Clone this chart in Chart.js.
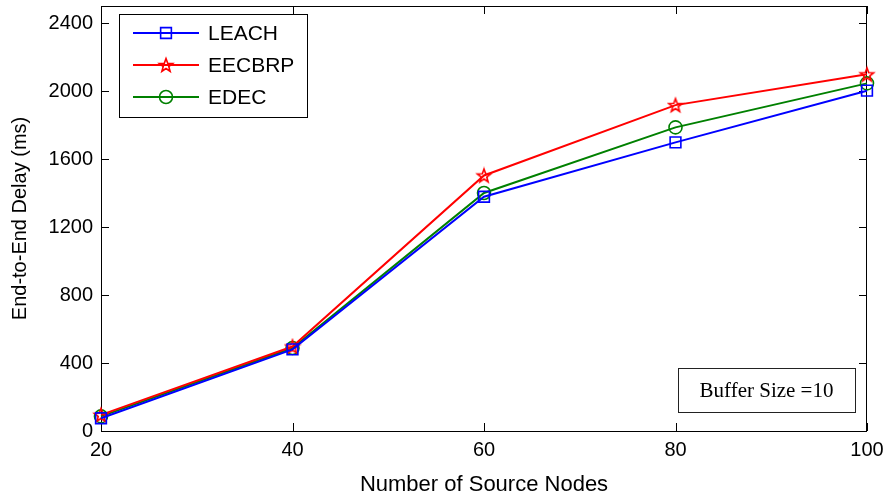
<!DOCTYPE html>
<html>
<head>
<meta charset="utf-8">
<script src="https://cdn.jsdelivr.net/npm/chart.js@4/dist/chart.umd.min.js"></script>
<style>
  html, body { margin: 0; padding: 0; background: #fff; }
  #wrap { width: 888px; height: 493px; }
</style>
</head>
<body>
<div id="wrap"><canvas id="c" width="888" height="493"></canvas></div>
<script>
// ---- data ----
const sourceNodes = [20, 40, 60, 80, 100];
const leach  = [75, 480, 1378, 1698, 2002];
const eecbrp = [95, 497, 1503, 1917, 2098];
const edec   = [86, 488, 1400, 1786, 2045];
const seriesNames = ['LEACH', 'EECBRP', 'EDEC'];
const yTicks = [0, 400, 800, 1200, 1600, 2000, 2400];
const xTicks = [20, 40, 60, 80, 100];
const annotationText = 'Buffer Size =10';

// pentagram marker
function makeStar(color) {
  const s = 18, cv = document.createElement('canvas');
  cv.width = s; cv.height = s;
  const g = cv.getContext('2d');
  const cx = s / 2, cy = s / 2 + 0.6, R = 7.0, r = 2.9;
  g.beginPath();
  for (let i = 0; i < 10; i++) {
    const a = -Math.PI / 2 + i * Math.PI / 5;
    const rr = i % 2 ? r : R;
    const px = cx + rr * Math.cos(a), py = cy + rr * Math.sin(a);
    i ? g.lineTo(px, py) : g.moveTo(px, py);
  }
  g.closePath();
  g.strokeStyle = color; g.lineWidth = 1.6; g.stroke();
  return cv;
}
const starImg = makeStar('#ff0000');

const mk = (vals) => sourceNodes.map((x, i) => ({x, y: vals[i]}));

const datasets = [
  {label: seriesNames[0], data: mk(leach), borderColor: '#0000ff', pointBorderColor: '#0000ff',
   pointStyle: 'rect', pointRadius: 7.6, legendRadius: 7.6},
  {label: seriesNames[1], data: mk(eecbrp), borderColor: '#ff0000', pointBorderColor: '#ff0000',
   pointStyle: starImg, pointRadius: 8, legendRadius: 8},
  {label: seriesNames[2], data: mk(edec), borderColor: '#008000', pointBorderColor: '#008000',
   pointStyle: 'circle', pointRadius: 6.5, legendRadius: 6.5}
].map(d => Object.assign({
  borderWidth: 2, pointBorderWidth: 1.6, pointBackgroundColor: 'rgba(0,0,0,0)',
  pointHoverRadius: d.pointRadius, tension: 0, clip: false, fill: false
}, d));

const framePlugin = {
  id: 'frame',
  beforeDatasetsDraw(chart) {
    const {ctx, chartArea: a, scales: {x, y}} = chart;
    ctx.save();
    ctx.strokeStyle = '#000'; ctx.lineWidth = 1;
    ctx.strokeRect(Math.round(a.left) + 0.5, Math.round(a.top) + 0.5,
                   Math.round(a.right - a.left) - 1, Math.round(a.bottom - a.top));
    const L = 8;
    ctx.beginPath();
    yTicks.forEach(v => {
      const py = Math.round(y.getPixelForValue(v)) + 0.5;
      ctx.moveTo(a.left, py); ctx.lineTo(a.left + L, py);
      ctx.moveTo(a.right, py); ctx.lineTo(a.right - L, py);
    });
    xTicks.forEach(v => {
      const px = Math.round(x.getPixelForValue(v)) + 0.5;
      ctx.moveTo(px, a.bottom); ctx.lineTo(px, a.bottom - L);
      ctx.moveTo(px, a.top); ctx.lineTo(px, a.top + L);
    });
    ctx.stroke();
    ctx.restore();
  },
  afterDraw(chart) {
    const {ctx, chartArea: a} = chart;
    ctx.save();
    // legend
    const lx = a.left + 18, ly = a.top + 8, lw = 188, lh = 103;
    ctx.fillStyle = '#fff';
    ctx.fillRect(lx, ly, lw, lh);
    ctx.strokeStyle = '#000'; ctx.lineWidth = 1;
    ctx.strokeRect(lx + 0.5, ly + 0.5, lw, lh);
    chart.data.datasets.forEach((ds, i) => {
      const cy = ly + 19 + i * 32;
      ctx.strokeStyle = ds.borderColor; ctx.lineWidth = 2;
      ctx.beginPath(); ctx.moveTo(lx + 14, cy); ctx.lineTo(lx + 80, cy); ctx.stroke();
      const mx = lx + 47;
      if (typeof ds.pointStyle !== 'string') {
        ctx.drawImage(ds.pointStyle, mx - ds.pointStyle.width / 2, cy - ds.pointStyle.height / 2);
      } else if (Chart.helpers && Chart.helpers.drawPoint) {
        ctx.fillStyle = 'rgba(0,0,0,0)';
        ctx.lineWidth = ds.pointBorderWidth;
        Chart.helpers.drawPoint(ctx, {pointStyle: ds.pointStyle, radius: ds.legendRadius, rotation: 0, borderWidth: ds.pointBorderWidth}, mx, cy);
      } else {
        ctx.lineWidth = ds.pointBorderWidth;
        ctx.beginPath();
        if (ds.pointStyle === 'rect') {
          const h = ds.legendRadius * Math.SQRT1_2;
          ctx.rect(mx - h, cy - h, 2 * h, 2 * h);
        } else {
          ctx.arc(mx, cy, ds.legendRadius, 0, Math.PI * 2);
        }
        ctx.stroke();
      }
      ctx.fillStyle = '#000';
      ctx.font = '21px "Liberation Sans", Arial, sans-serif';
      ctx.textBaseline = 'middle'; ctx.textAlign = 'left';
      ctx.fillText(ds.label, lx + 89, cy + 1);
    });
    // annotation box
    const bx = a.right - 189, by = a.bottom - 63, bw = 177, bh = 44;
    ctx.fillStyle = '#fff';
    ctx.fillRect(bx, by, bw, bh);
    ctx.strokeStyle = '#222'; ctx.lineWidth = 1;
    ctx.strokeRect(bx + 0.5, by + 0.5, bw, bh);
    ctx.fillStyle = '#000';
    ctx.font = '21px "Liberation Serif", "Times New Roman", serif';
    ctx.textAlign = 'center'; ctx.textBaseline = 'middle';
    ctx.fillText(annotationText, bx + bw / 2, by + bh / 2 + 1);
    ctx.restore();
  }
};

new Chart(document.getElementById('c'), {
  type: 'line',
  data: {datasets},
  options: {
    responsive: false,
    animation: false,
    devicePixelRatio: 1,
    layout: {autoPadding: false, padding: {top: 6, right: 21, left: 0, bottom: 0}},
    plugins: {legend: {display: false}, tooltip: {enabled: false}},
    scales: {
      x: {
        type: 'linear', min: 20, max: 100,
        grid: {display: false, drawTicks: false},
        border: {display: false},
        ticks: {stepSize: 20, color: '#000', padding: 7, callback: v => String(v),
                font: {family: '"Liberation Sans", Arial, sans-serif', size: 20}},
        afterBuildTicks: s => { s.ticks = xTicks.map(v => ({value: v})); },
        afterFit: s => { s.height = 62; s.paddingLeft = 0; s.paddingRight = 0; },
        title: {display: true, text: 'Number of Source Nodes', color: '#000',
                font: {family: '"Liberation Sans", Arial, sans-serif', size: 22, lineHeight: 1},
                padding: {top: 0, bottom: -3}}
      },
      y: {
        type: 'linear', min: 0, max: 2500,
        grid: {display: false, drawTicks: false},
        border: {display: false},
        ticks: {stepSize: 400, color: '#000', padding: 8, callback: v => String(v),
                font: {family: '"Liberation Sans", Arial, sans-serif', size: 20}},
        afterBuildTicks: s => { s.ticks = yTicks.map(v => ({value: v})); },
        afterFit: s => { s.width = 101; s.paddingTop = 0; s.paddingBottom = 0; },
        title: {display: true, text: 'End-to-End Delay (ms)', color: '#000',
                font: {family: '"Liberation Sans", Arial, sans-serif', size: 20, lineHeight: 1.2},
                padding: {top: 8, bottom: 0}}
      }
    }
  },
  plugins: [framePlugin]
});
</script>
</body>
</html>
